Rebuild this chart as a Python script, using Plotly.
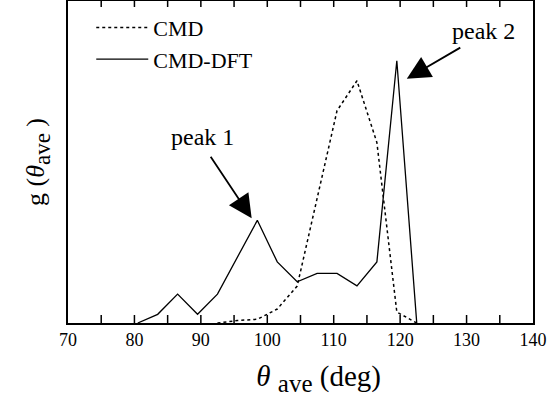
import plotly.graph_objects as go

theta = [80.5, 83.5, 86.5, 89.5, 92.5, 95.5, 98.5, 101.5, 104.5, 107.5,
         110.5, 113.5, 116.5, 119.5, 122.5]
g_cmd_dft = [0.0, 0.087, 0.29, 0.087, 0.29, 0.66, 1.03, 0.613, 0.413, 0.497,
             0.497, 0.373, 0.613, 2.63, 0.0]
theta_cmd = [92.5, 95.5, 98.5, 101.5, 104.5, 107.5, 110.5, 113.5, 116.5, 119.5, 122.5]
g_cmd = [0.0, 0.025, 0.037, 0.14, 0.37, 1.25, 2.13, 2.43, 1.81, 0.11, 0.0]
tick_all = [75, 80, 85, 90, 95, 100, 105, 110, 115, 120, 125, 130, 135]
Y_MAX = 3.23

FONT = "Liberation Serif, Times New Roman, serif"

fig = go.Figure()
fig.add_trace(go.Scatter(x=theta_cmd, y=g_cmd, mode="lines", name="CMD",
                         line=dict(color="black", width=1.5, dash="dot")))
fig.add_trace(go.Scatter(x=theta, y=g_cmd_dft, mode="lines", name="CMD-DFT",
                         line=dict(color="black", width=1.3)))

# inside tick marks every 5 degrees (bottom and top), drawn as error bars
n = len(tick_all)
fig.add_trace(go.Scatter(x=tick_all, y=[0] * n, mode="markers", showlegend=False,
                         hoverinfo="skip", cliponaxis=False,
                         marker=dict(size=1, opacity=0),
                         error_y=dict(type="data", symmetric=False, array=[0.08] * n,
                                      arrayminus=[0] * n, width=0, thickness=1.5,
                                      color="black")))
fig.add_trace(go.Scatter(x=tick_all, y=[Y_MAX] * n, mode="markers", showlegend=False,
                         hoverinfo="skip", cliponaxis=False,
                         marker=dict(size=1, opacity=0),
                         error_y=dict(type="data", symmetric=False, array=[0] * n,
                                      arrayminus=[0.06] * n, width=0, thickness=1.5,
                                      color="black")))

# arrows
fig.add_annotation(x=97.65, y=1.05, ax=-42, ay=-63, text="", showarrow=True,
                   arrowhead=2, arrowsize=2.6, arrowwidth=1.8, arrowcolor="black")
fig.add_annotation(x=121.0, y=2.45, ax=55, ay=-32, text="", showarrow=True,
                   arrowhead=2, arrowsize=2.6, arrowwidth=1.8, arrowcolor="black")
fig.add_annotation(x=90.3, y=1.87, text="peak 1", showarrow=False,
                   font=dict(family=FONT, size=24, color="black"))
fig.add_annotation(x=132.6, y=2.93, text="peak 2", showarrow=False,
                   font=dict(family=FONT, size=24, color="black"))

fig.update_layout(
    template="none",
    width=547, height=400,
    margin=dict(l=68, r=14, t=1, b=77),
    paper_bgcolor="white", plot_bgcolor="white",
    font=dict(family=FONT, color="black"),
    showlegend=True,
    legend=dict(x=0.05, y=0.982, xanchor="left", yanchor="top",
                font=dict(family=FONT, size=22, color="black"),
                bgcolor="rgba(0,0,0,0)", itemwidth=52, tracegroupgap=0),
    xaxis=dict(range=[70, 140], tickmode="linear", tick0=70, dtick=10,
               ticks="", showline=True, linecolor="black", linewidth=1.5, mirror=True,
               showgrid=False, zeroline=False,
               tickfont=dict(family=FONT, size=18, color="black"),
               title=dict(text="&nbsp;&nbsp;&nbsp;&nbsp;&nbsp;<i>θ</i> <sub><span style='font-size:25px'>ave</span></sub> (deg)",
                          standoff=16,
                          font=dict(family=FONT, size=29, color="black"))),
    yaxis=dict(range=[0, Y_MAX], showticklabels=False, ticks="",
               showline=True, linecolor="black", linewidth=1.5, mirror=True,
               showgrid=False, zeroline=False,
               title=dict(text="g (<i>θ</i><sub><span style='font-size:23px'>ave</span></sub> )",
                          standoff=14,
                          font=dict(family=FONT, size=26, color="black"))),
)

fig.write_html("out.html", config={"displayModeBar": False},
               post_script="document.body.style.margin='0';")
